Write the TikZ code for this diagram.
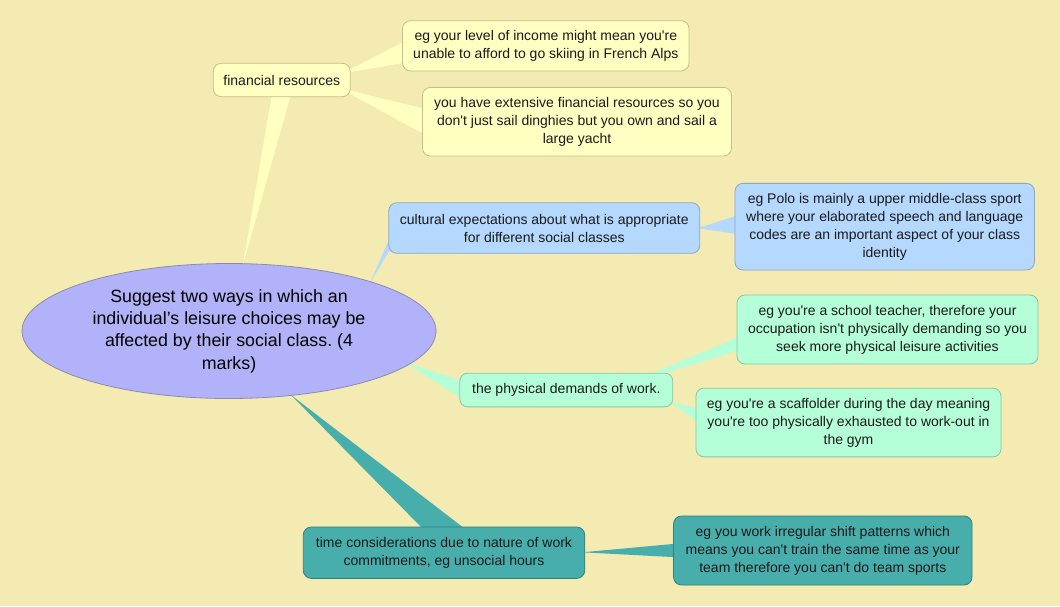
\documentclass[tikz,border=0pt]{standalone}
\usepackage{fontspec}
\newfontfamily\mapfont{Liberation Sans}
\usetikzlibrary{shapes.geometric,calc,backgrounds}
\definecolor{bgc}{HTML}{F3EBB1}
\definecolor{ylw}{HTML}{FFFFC2}
\definecolor{ylwd}{HTML}{C2BE8E}
\definecolor{blu}{HTML}{B5D8FF}
\definecolor{blud}{HTML}{8EA6C4}
\definecolor{mnt}{HTML}{B4FFD8}
\definecolor{mntd}{HTML}{8CC4A6}
\definecolor{tel}{HTML}{48AEAC}
\definecolor{teld}{HTML}{2F807E}
\definecolor{lav}{HTML}{B2B2FA}
\definecolor{lavd}{HTML}{8C8CAA}
\definecolor{txt}{HTML}{1A1A1A}
\newcommand\wedgefill[4]{\fill[#1] #2 -- #3 -- #4 -- cycle;}
\begin{document}
\frenchspacing
\begin{tikzpicture}[x=1pt,y=-1pt,
  box/.style={draw, rounded corners=8pt, line width=0.8pt, inner sep=0pt,
    align=center, text=txt, font=\mapfont\fontsize{14}{18}\selectfont},
  ybox/.style={box, fill=ylw, draw=ylwd},
  bbox/.style={box, fill=blu, draw=blud},
  mbox/.style={box, fill=mnt, draw=mntd},
  tbox/.style={box, fill=tel, draw=teld},
  central/.style={ellipse, draw=lavd, fill=lav, line width=0.8pt, inner sep=0pt,
    minimum width=414pt, minimum height=135pt, align=center, text=black,
    font=\mapfont\fontsize{17.8}{22.3}\selectfont}]
\useasboundingbox (0,0) rectangle (1060,606);
\begin{scope}[on background layer]
  \fill[bgc] (0,0) rectangle (1060,606);
\end{scope}

\node[central] (ell) at (229,331) {Suggest two ways in which an\\individual’s leisure choices may be\\affected by their social class. (4\\marks)};

\node[ybox, minimum width=137pt, minimum height=33.4pt] (fin) at (281.8,80) {financial resources};
\node[ybox, minimum width=286.5pt, minimum height=50.3pt] (lvl) at (545.8,45.8) {eg your level of income might mean you're\\unable to afford to go skiing in French Alps};
\node[ybox, minimum width=309pt, minimum height=68.7pt] (ext) at (577,121.7) {you have extensive financial resources so you\\don't just sail dinghies but you own and sail a\\large yacht};

\node[bbox, minimum width=311pt, minimum height=50.6pt] (cul) at (544.3,228) {cultural expectations about what is appropriate\\for different social classes};
\node[bbox, minimum width=299.5pt, minimum height=86.7pt] (pol) at (884.7,226.7) {eg Polo is mainly a upper middle-class sport\\where your elaborated speech and language\\codes are an important aspect of your class\\identity};

\node[mbox, minimum width=213pt, minimum height=33.7pt] (phy) at (566.3,390) {the physical demands of work.};
\node[mbox, minimum width=301pt, minimum height=69pt] (tea) at (887.5,329.5) {eg you're a school teacher, therefore your\\occupation isn't physically demanding so you\\seek more physical leisure activities};
\node[mbox, minimum width=305pt, minimum height=68.7pt] (sca) at (848.5,422.5) {eg you're a scaffolder during the day meaning\\you're too physically exhausted to work-out in\\the gym};

\node[tbox, minimum width=281.5pt, minimum height=51.3pt] (tim) at (444,552.7) {time considerations due to nature of work\\commitments, eg unsocial hours};
\node[tbox, minimum width=298.5pt, minimum height=69pt] (irr) at (822.8,550.5) {eg you work irregular shift patterns which\\means you can't train the same time as your\\team therefore you can't do team sports};

\begin{scope}[on background layer]
  % central -> financial resources
  \wedgefill{ylw}{($(ell.north)+(14,1.5)$)}{($(fin.south)+(-8.9,-8.7)$)}{($(fin.south)+(10.9,-8.7)$)}
  % financial -> income
  \wedgefill{ylw}{($(fin.east)+(-8.6,-6.6)$)}{($(lvl.west)+(7.5,-7)$)}{($(lvl.west)+(7.5,16.1)$)}
  % financial -> extensive
  \wedgefill{ylw}{($(fin.east)+(-12,7.8)$)}{($(ext.west)+(8.6,-11.5)$)}{($(ext.west)+(8.6,15.9)$)}
  % central -> cultural
  \wedgefill{blu}{($(ell.center)+(141,-48)$)}{($(cul.west)+(2.2,8)$)}{($(cul.west)+(9.8,8)$)}
  % cultural -> polo
  \wedgefill{blu}{($(cul.east)+(-2.8,0.3)$)}{($(pol.west)+(7,-12.7)$)}{($(pol.west)+(7,7.8)$)}
  % central -> physical
  \wedgefill{mnt}{($(ell.center)+(177,32)$)}{($(phy.west)+(6,-8.1)$)}{($(phy.west)+(6,11)$)}
  % physical -> teacher
  \wedgefill{mnt}{($(phy.east)+(-53,-3.2)$)}{($(tea.west)+(8,5.1)$)}{($(tea.west)+(8,19)$)}
  % physical -> scaffolder
  \wedgefill{mnt}{($(phy.east)+(-5,10)$)}{($(sca.west)+(7,-12)$)}{($(sca.west)+(7,3.3)$)}
  % central -> time
  \wedgefill{tel}{($(ell.center)+(62,64)$)}{($(tim.north)+(-15.4,8)$)}{($(tim.north)+(28.5,8)$)}
  % time -> irregular
  \wedgefill{tel}{($(tim.east)+(-3,-0.4)$)}{($(irr.west)+(8.4,-7.3)$)}{($(irr.west)+(8.4,7)$)}
\end{scope}
\end{tikzpicture}
\end{document}
